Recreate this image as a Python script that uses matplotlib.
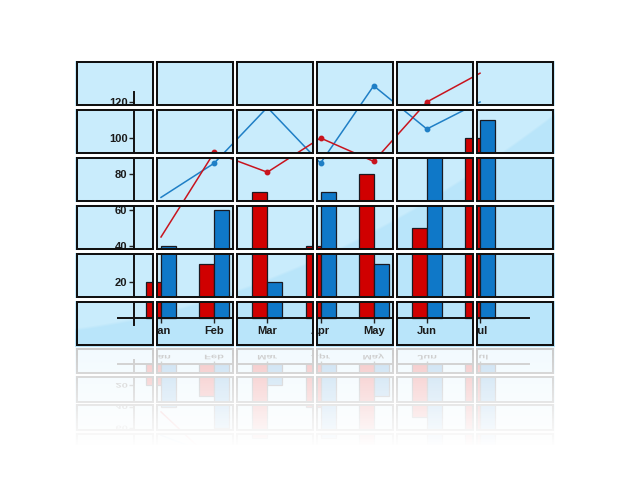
import numpy as np
import matplotlib
matplotlib.use('Agg')
from matplotlib import pyplot as plt
from matplotlib.patches import Rectangle, PathPatch
from matplotlib.textpath import TextPath
from matplotlib.font_manager import FontProperties
from matplotlib.transforms import Affine2D
from matplotlib.colors import to_rgb

plt.rcParams['font.family'] = ['Liberation Sans', 'DejaVu Sans']

# data
months = ['Jan', 'Feb', 'Mar', 'Apr', 'May', 'Jun', 'Jul']
red_bars = [20, 30, 70, 40, 80, 50, 100]
blue_bars = [40, 60, 20, 70, 30, 90, 110]
red_line = [45, 92, 81, 100, 87, 120, 136]
blue_line = [67, 86, 117, 86, 129, 105, 120]
yticks = [20, 40, 60, 80, 100, 120]

W, H = 626, 501
BAR_RED = '#d00000'
BAR_BLUE = '#0f78c8'
LINE_RED = '#c8141e'
LINE_BLUE = '#1f7fc6'
EDGE = '#1a1a22'
FS = 8.0

# panel grid (pixels)
col_left = [75.5 + 80 * i for i in range(6)]
row_top = [61 + 47.9 * j for j in range(6)]
pw, ph = 78, 45
grid_bottom = row_top[-1] + ph
mirror = 347.0
squash = 0.59

def refl(py):
    return mirror + squash * (mirror - py)

# chart mapping: data -> pixels
px0, dx = 161.0, 53.17
py0, dy = 318.0, 1.8

fig = plt.figure(figsize=(6.26, 5.01), dpi=100)
fig.patch.set_facecolor('white')

ax_bg = fig.add_axes([0, 0, 1, 1])
ax = fig.add_axes([0, 0, 1, 1])
ax_ref = fig.add_axes([0, 0, 1, 1])
ax_fg = fig.add_axes([0, 0, 1, 1])
ax_bg.set_zorder(0)
ax.set_zorder(1)
ax_ref.set_zorder(1)
ax_fg.set_zorder(2)
for a in (ax_bg, ax_fg):
    a.axis('off')
for a in (ax, ax_ref):
    a.patch.set_visible(False)

# --- panel background with glossy sheen
gx = np.arange(75, 555) + 0.5
gy = np.arange(61, int(np.ceil(grid_bottom)) + 1) + 0.5
X, Y = np.meshgrid(gx, gy)
coef = np.polyfit([77, 236, 443, 550], [333, 282, 204, 112], 2)
yc = np.polyval(coef, X)
t = np.clip((Y - yc) / 3 + 0.5, 0, 1)
light = np.array(to_rgb('#c9ecfc'))
dark = np.array(to_rgb('#b9e5fa'))
img = light * (1 - t)[..., None] + dark * t[..., None]
ax_bg.imshow(img, extent=(75, 555, gy[-1] + 0.5, 61), aspect='auto',
             interpolation='bilinear')
# reflected panel fill
ax_bg.add_patch(Rectangle((75, mirror), 480, 120, fc='#c6eafc', ec='none'))
ax_bg.set_xlim(0, W)
ax_bg.set_ylim(H, 0)

# --- main chart
x = np.arange(len(months))
bw = 15 / dx

def draw_chart(a, tick_dir, tick_len):
    a.bar(x - bw / 2, red_bars, bw, color=BAR_RED, edgecolor=EDGE, linewidth=0.9)
    a.bar(x + bw / 2, blue_bars, bw, color=BAR_BLUE, edgecolor=EDGE, linewidth=0.9)
    a.plot(x, blue_line, color=LINE_BLUE, lw=1.1, marker='o', ms=3.2,
           markevery=[1, 2, 3, 4, 5])
    a.plot(x, red_line, color=LINE_RED, lw=1.1, marker='o', ms=3.2,
           markevery=[1, 2, 3, 4, 5])
    a.set_xlim((0 - px0) / dx, (W - px0) / dx)
    for s in ('top', 'right'):
        a.spines[s].set_visible(False)
    a.spines['left'].set_position(('data', -0.5))
    a.spines['left'].set_bounds(-4, 125.5)
    a.spines['bottom'].set_position(('data', 0))
    a.spines['bottom'].set_bounds(-0.8, 6.93)
    for s in ('left', 'bottom'):
        a.spines[s].set_linewidth(1.4)
        a.spines[s].set_color('#111111')
    a.set_xticks(x)
    a.set_yticks(yticks)
    a.tick_params(axis='y', length=3.5, width=1, color='#222222', pad=1.5)
    a.tick_params(axis='x', length=tick_len, width=1, color='#222222', pad=2,
                  direction=tick_dir)

draw_chart(ax, 'out', 3.5)
ax.set_ylim((py0 - H) / dy, py0 / dy)
ax.set_xticklabels(months, fontsize=FS, fontweight='bold', color='#1a1a1a')
ax.set_yticklabels([str(v) for v in yticks], fontsize=FS, fontweight='bold',
                   color='#1a1a1a')

# reflection: same data, mirrored and squashed below the panels
draw_chart(ax_ref, 'in', 2.2)
ry0 = refl(py0)
ax_ref.set_ylim((H - ry0) / (dy * squash), (0 - ry0) / (dy * squash))
ax_ref.set_xticklabels([])
ax_ref.set_yticklabels([])

# --- panel borders and white gaps
ax_fg.set_xlim(0, W)
ax_fg.set_ylim(H, 0)

def panels(tops, height):
    for l in col_left:
        for tp in tops:
            ax_fg.add_patch(Rectangle((l + 1, tp + 1), pw - 2, height - 2,
                                      fill=False, ec='#111111', lw=1.45, zorder=3))
    y_a = min(tops) - 2
    y_b = max(tops) + height + 2
    for l in col_left[:-1]:
        ax_fg.add_patch(Rectangle((l + pw, y_a), 80 - pw, y_b - y_a,
                                  fc='white', ec='none', zorder=2))
    for tp in sorted(tops)[:-1]:
        nxt = min(v for v in tops if v > tp)
        ax_fg.add_patch(Rectangle((col_left[0] - 2, tp + height), 484, nxt - tp - height,
                                  fc='white', ec='none', zorder=2))

panels(row_top, ph)
ref_tops = [refl(tp + ph) for tp in row_top[2:]]
panels(ref_tops, ph * squash)

# mirrored tick labels in the reflection
fp = FontProperties(family='Liberation Sans', weight='bold')
fsize = FS * 100 / 72

def mirrored_text(s, xpix, ypix, ha):
    tp = TextPath((0, 0), s, size=fsize, prop=fp)
    ext = tp.get_extents()
    if ha == 'right':
        tr = Affine2D().translate(-ext.x1, -(ext.y0 + ext.y1) / 2)
    else:
        tr = Affine2D().translate(-(ext.x0 + ext.x1) / 2, -ext.y1)
    tr = tr.scale(1, squash).translate(xpix, ypix)
    ax_fg.add_patch(PathPatch(tr.transform_path(tp), fc='#1a1a1a', ec='none', zorder=1))

for v in yticks[:3]:
    dxp, dyp = ax_ref.transData.transform((-0.5, v))
    mirrored_text(str(v), dxp - 7, H - dyp, 'right')
for i, m in enumerate(months):
    dxp, dyp = ax_ref.transData.transform((i, 0))
    mirrored_text(m, dxp, H - dyp - 7.8 * squash, 'center')

# fade reflection to white
n = 160
alpha = np.clip(0.78 + 0.22 * (np.arange(n) / 98.0), 0, 1)
fade = np.ones((n, 1, 4))
fade[:, 0, 3] = alpha
ax_fg.imshow(fade, extent=(0, W, mirror + n, mirror), aspect='auto', zorder=10,
             interpolation='bilinear')
ax_fg.set_xlim(0, W)
ax_fg.set_ylim(H, 0)

fig.savefig('out.png', dpi=100, facecolor='white')
